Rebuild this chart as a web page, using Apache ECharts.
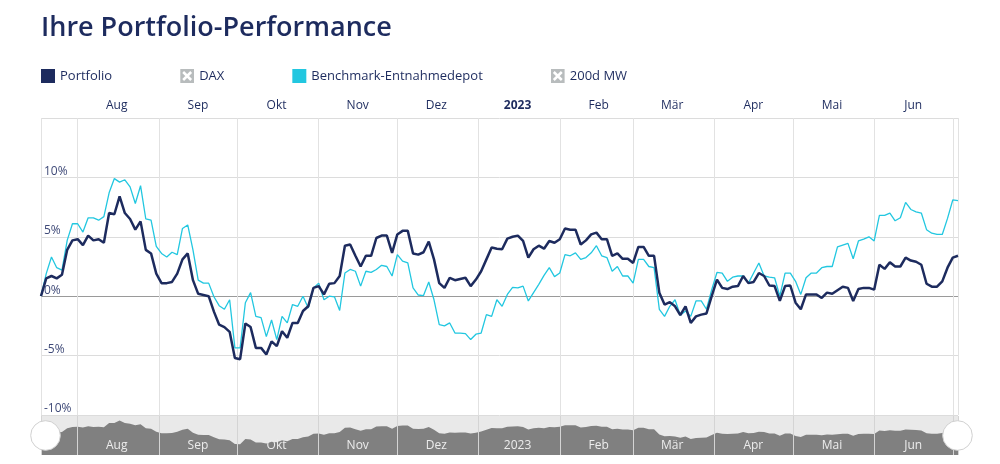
<!DOCTYPE html>
<html><head><meta charset="utf-8">
<script src="https://cdn.jsdelivr.net/npm/echarts@6/dist/echarts.min.js"></script>
<style>html,body{margin:0;padding:0;background:#fff}#c{width:1000px;height:464px}</style>
</head><body><div id="c"></div>
<script>
const titleText = 'Ihre Portfolio-Performance';
const seriesNames = ['Portfolio', 'DAX', 'Benchmark-Entnahmedepot', '200d MW'];
const monthLabels = ['2023', 'Feb', 'Mär', 'Apr', 'Mai', 'Jun', 'Jul', 'Aug', 'Sep', 'Okt', 'Nov', 'Dez'];
const yLabelTicks = [-10, -5, 0, 5, 10];
const startDay = [2022, 6, 18];   // 18 Jul 2022
const stepDays = 2;               // one reading every two days

const portfolio = [
 0, 1.5, 1.7, 1.5, 1.8, 3.9, 4.7, 4.8, 4.3, 5.1,
 4.7, 4.8, 4.5, 7.0, 6.9, 8.4, 7.0, 6.5, 5.6, 6.3,
 3.9, 3.6, 1.9, 1.1, 1.1, 1.2, 1.9, 3.1, 3.6, 1.35,
 0.2, 0.1, 0.0, -1.3, -2.4, -2.6, -3.0, -5.2, -5.3, -2.3,
 -2.6, -4.35, -4.35, -4.9, -3.8, -4.2, -2.95, -3.5, -2.25, -2.25,
 -1.25, -0.85, 0.7, 0.85, 0.15, 1.05, 1.1, 1.7, 4.25, 4.35,
 3.4, 2.5, 3.4, 3.4, 4.9, 5.1, 5.1, 3.65, 5.2, 5.5,
 5.5, 3.6, 3.5, 3.7, 4.6, 3.1, 1.1, 0.7, 1.55, 1.35,
 1.45, 1.55, 0.85, 1.4, 2.1, 3.1, 4.1, 4.0, 3.95, 4.85,
 5.0, 5.1, 4.65, 3.25, 3.95, 4.25, 4.0, 4.65, 4.5, 4.8,
 5.7, 5.6, 5.6, 4.35, 4.7, 5.2, 5.35, 4.8, 4.8, 3.4,
 3.6, 3.15, 3.15, 2.8, 4.15, 4.15, 3.4, 3.4, 0.3, -0.7,
 -0.5, -0.85, -1.6, -0.85, -2.25, -1.7, -1.55, -1.45, 0.0, 1.4,
 0.7, 0.6, 0.8, 0.85, 1.7, 1.1, 1.2, 1.95, 1.7, 0.9,
 0.85, -0.4, 0.85, 0.9, -0.55, -1.1, 0.15, 0.15, 0.15, -0.15,
 0.3, 0.2, 0.5, 0.8, 0.7, -0.4, 0.6, 0.7, 0.7, 0.55,
 2.65, 2.3, 2.85, 2.5, 2.5, 3.25, 3.0, 2.9, 2.65, 1.05,
 0.8, 0.8, 1.25, 2.4, 3.25, 3.4
];
const benchmark = [
 0, 1.9, 3.3, 2.4, 2.2, 4.7, 6.1, 6.1, 5.4, 6.6,
 6.6, 6.4, 6.7, 8.7, 9.9, 9.6, 9.8, 9.2, 7.8, 9.3,
 6.5, 6.4, 4.2, 3.6, 3.3, 3.7, 3.5, 5.7, 6.0, 3.9,
 1.35, 1.1, 1.1, -0.05, -0.8, -1.1, -0.3, -4.35, -4.35, -0.55,
 0.3, -1.7, -1.8, -3.4, -2.0, -3.65, -1.7, -2.25, -0.7, -0.85,
 0.0, -1.0, 0.7, 1.1, -0.3, 0.0, -0.05, -1.2, 1.95, 2.25,
 2.1, 0.85, 2.1, 2.0, 2.25, 2.6, 2.5, 1.7, 3.5, 2.95,
 2.8, 0.7, 0.1, 0.05, 1.2, -0.3, -2.4, -2.5, -2.25, -3.1,
 -3.1, -3.15, -3.65, -3.2, -3.1, -1.55, -1.7, -0.3, -0.85, 0.15,
 0.75, 0.7, 0.85, -0.4, 0.3, 1.0, 1.75, 2.4, 1.65, 1.95,
 3.5, 3.4, 3.65, 3.1, 3.25, 3.65, 4.25, 3.4, 3.25, 2.1,
 2.5, 1.7, 1.7, 1.1, 3.1, 3.1, 2.5, 2.4, -1.1, -1.7,
 -0.85, -0.3, -1.6, -1.25, -1.7, -0.4, -0.4, -1.1, 0.55, 2.0,
 1.95, 1.25, 1.6, 1.7, 1.7, 1.1, 1.95, 2.8, 1.7, 1.6,
 1.55, 0.0, 1.95, 1.95, 1.25, 0.15, 1.55, 1.95, 1.95, 2.4,
 2.5, 2.5, 4.15, 4.3, 4.45, 3.15, 4.65, 4.8, 5.0, 4.65,
 6.8, 6.8, 7.0, 6.35, 6.6, 7.9, 7.3, 7.1, 7.0, 5.6,
 5.3, 5.2, 5.2, 6.55, 8.1, 8.05
];
const dax = [];
const ma200 = [];

const DAY = 86400000;
const dates = portfolio.map((_, i) => Date.UTC(startDay[0], startDay[1], startDay[2] + stepDays * i));
const xMin = dates[0];
const xMax = dates[dates.length - 1];
const pair = arr => arr.map((v, i) => [dates[i], v]);

const NAVY = '#1d2b5e';
const CYAN = '#22c7e0';
const FONT = 'Open Sans';
const xIcon = 'image://data:image/svg+xml;charset=utf-8,' + encodeURIComponent(
  "<svg xmlns='http://www.w3.org/2000/svg' width='28' height='28'><rect width='28' height='28' fill='#b8bcbd'/><path d='M6 6L22 22M22 6L6 22' stroke='#ffffff' stroke-width='5'/></svg>");

function monthText(v, bold) {
  const d = new Date(v);
  if (d.getUTCDate() !== 1) return '';
  if (v + 15 * DAY > xMax) return '';
  const m = d.getUTCMonth();
  if (m === 0 && bold) return '{b|' + monthLabels[0] + '}';
  return monthLabels[m];
}

const chart = echarts.init(document.getElementById('c'), null, {renderer: 'canvas'});
chart.setOption({
  animation: false,
  useUTC: true,
  title: {
    text: titleText, left: 41, top: 15, padding: 0,
    textStyle: {color: NAVY, fontFamily: FONT, fontWeight: 600, fontSize: 27}
  },
  legend: {
    left: 41, top: 69, padding: 0, itemWidth: 14, itemHeight: 14, itemGap: 68,
    selectedMode: false,
    itemStyle: {borderWidth: 0},
    textStyle: {color: NAVY, fontFamily: FONT, fontSize: 13},
    data: [
      {name: seriesNames[0], icon: 'rect'},
      {name: seriesNames[1], icon: xIcon},
      {name: seriesNames[2], icon: 'rect'},
      {name: seriesNames[3], icon: xIcon}
    ]
  },
  grid: [
    {left: 41, right: 42, top: 118, bottom: 49},
    {left: 41, right: 42, top: 416, height: 39, show: true, backgroundColor: '#e9e9e9', borderWidth: 0}
  ],
  xAxis: [
    {
      type: 'time', gridIndex: 0, position: 'top', min: xMin, max: xMax,
      splitNumber: 12, minInterval: 28 * DAY, maxInterval: 31 * DAY,
      axisLine: {show: false}, axisTick: {show: false},
      axisLabel: {
        formatter: v => monthText(v, true), color: NAVY, fontFamily: FONT, fontSize: 12,
        margin: 6, align: 'center', padding: [0, 0, 0, 78],
        rich: {b: {fontWeight: 'bold', color: NAVY, fontFamily: FONT, fontSize: 12}}
      },
      splitLine: {show: true, lineStyle: {color: '#e2e2e2', width: 1}}
    },
    {
      type: 'time', gridIndex: 1, position: 'bottom', min: xMin, max: xMax,
      splitNumber: 12, minInterval: 28 * DAY, maxInterval: 31 * DAY, z: 5,
      axisLine: {show: false}, axisTick: {show: false},
      axisLabel: {
        inside: true, formatter: v => monthText(v, false), color: '#ececec', fontFamily: FONT, fontSize: 12,
        margin: 3, align: 'center', padding: [0, 0, 0, 78]
      },
      splitLine: {show: true, lineStyle: {color: '#d4d4d4', width: 1}}
    }
  ],
  yAxis: [
    {
      type: 'value', gridIndex: 0, min: -10, max: 15, interval: 5,
      axisLine: {show: false}, axisTick: {show: false},
      axisLabel: {
        inside: true, margin: 3, verticalAlign: 'bottom', color: '#3f4a78',
        fontFamily: FONT, fontSize: 12,
        formatter: v => yLabelTicks.includes(v) ? v + '%' : ''
      },
      splitLine: {lineStyle: {color: ['#dcdcdc', '#dcdcdc', '#9a9a9a', '#dcdcdc', '#dcdcdc', '#dcdcdc'], width: 1}}
    },
    {type: 'value', gridIndex: 1, min: -11.5, max: 11, show: false}
  ],
  dataZoom: [{
    type: 'slider', xAxisIndex: 0, filterMode: 'none', start: 0, end: 100,
    left: 43, right: 43, top: 416, height: 39,
    backgroundColor: 'rgba(0,0,0,0)', fillerColor: 'rgba(0,0,0,0)', borderColor: 'rgba(0,0,0,0)',
    showDataShadow: false, showDetail: false, brushSelect: false, moveHandleSize: 0,
    handleIcon: 'circle', handleSize: '76%',
    handleStyle: {color: '#ffffff', borderColor: '#d0d0d0', borderWidth: 1},
    dataBackground: {lineStyle: {opacity: 0}, areaStyle: {opacity: 0}},
    selectedDataBackground: {lineStyle: {opacity: 0}, areaStyle: {opacity: 0}},
    z: 10
  }],
  series: [
    {name: seriesNames[0], type: 'line', xAxisIndex: 0, yAxisIndex: 0, data: pair(portfolio),
     symbol: 'none', lineStyle: {color: NAVY, width: 2.5}, itemStyle: {color: NAVY}, z: 4},
    {name: seriesNames[1], type: 'line', xAxisIndex: 0, yAxisIndex: 0, data: dax, symbol: 'none',
     itemStyle: {color: '#b8bcbd'}},
    {name: seriesNames[2], type: 'line', xAxisIndex: 0, yAxisIndex: 0, data: pair(benchmark),
     symbol: 'none', lineStyle: {color: CYAN, width: 1.3}, itemStyle: {color: CYAN}, z: 3},
    {name: seriesNames[3], type: 'line', xAxisIndex: 0, yAxisIndex: 0, data: ma200, symbol: 'none',
     itemStyle: {color: '#b8bcbd'}},
    {type: 'line', xAxisIndex: 1, yAxisIndex: 1, data: pair(portfolio), symbol: 'none', silent: true,
     lineStyle: {width: 0}, areaStyle: {color: '#808080', opacity: 1, origin: 'start'}, z: 2}
  ]
});
</script></body></html>
